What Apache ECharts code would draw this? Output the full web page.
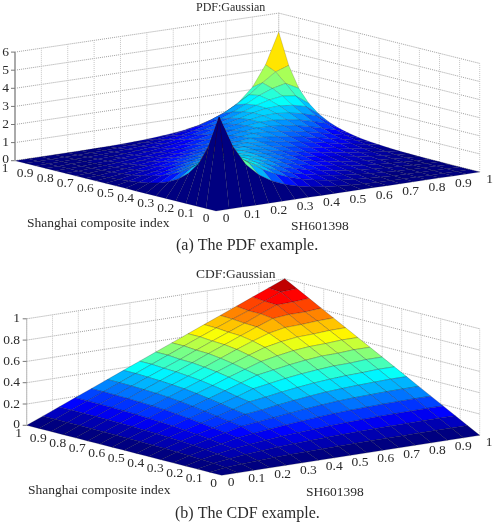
<!DOCTYPE html>
<html>
<head>
<meta charset="utf-8">
<style>html,body{margin:0;padding:0;background:#fff}#chart{width:496px;height:524px}</style>
<script src="https://cdn.jsdelivr.net/npm/echarts@6/dist/echarts.min.js"></script>
</head>
<body>
<div id="chart"></div>
<script>
// Axis tick labels
const marginTicks = ['0','0.1','0.2','0.3','0.4','0.5','0.6','0.7','0.8','0.9','1'];
const pdfHeightTicks = ['0','1','2','3','4','5','6'];
const cdfHeightTicks = ['0','0.2','0.4','0.6','0.8','1'];

// Density heights, lower triangle; row i holds columns 0..i on a 0.05 mesh.
const pdfLower = [
[0],
[0,4.95],
[0,3.25,3.0],
[0,2.12,2.5,2.33],
[0,1.43,1.95,2.05,1.94],
[0,.98,1.5,1.68,1.75,1.72],
[0,.68,1.13,1.35,1.5,1.58,1.56],
[0,.47,.85,1.06,1.25,1.38,1.45,1.45],
[0,.33,.63,.83,1.02,1.18,1.29,1.36,1.37],
[0,.23,.47,.64,.82,.98,1.12,1.22,1.29,1.32],
[0,.16,.34,.49,.65,.80,.95,1.07,1.17,1.25,1.30],
[0,.11,.25,.37,.51,.65,.79,.91,1.03,1.14,1.22,1.30],
[0,.075,.18,.28,.39,.51,.64,.76,.88,1.01,1.14,1.25,1.32],
[0,.05,.13,.21,.30,.39,.50,.61,.74,.88,1.03,1.17,1.29,1.37],
[0,.035,.09,.15,.22,.30,.39,.50,.62,.76,.91,1.07,1.22,1.36,1.45],
[0,.022,.06,.11,.16,.22,.30,.40,.51,.64,.79,.95,1.12,1.29,1.45,1.56],
[0,.014,.04,.075,.115,.16,.22,.30,.40,.51,.65,.80,.98,1.18,1.38,1.58,1.72],
[0,.008,.027,.05,.08,.115,.16,.22,.30,.39,.51,.65,.82,1.02,1.25,1.5,1.75,1.94],
[0,.004,.017,.03,.05,.075,.11,.15,.21,.28,.37,.49,.64,.83,1.06,1.35,1.68,2.05,2.33],
[0,.002,.01,.017,.027,.04,.06,.09,.13,.18,.25,.34,.47,.63,.85,1.13,1.5,1.95,2.5,3.0],
[0,.001,.002,.004,.008,.014,.022,.035,.05,.075,.11,.16,.23,.33,.47,.68,.98,1.43,2.12,3.25,4.95]
];

// Cumulative heights, lower triangle; row i holds columns 0..i on a 1/16 mesh.
const cdfLower = [
[0],
[0,.02],
[0,.03,.05],
[0,.038,.066,.09],
[0,.043,.078,.107,.14],
[0,.048,.089,.124,.158,.195],
[0,.052,.097,.137,.175,.212,.255],
[0,.054,.103,.147,.19,.23,.272,.32],
[0,.056,.109,.157,.204,.248,.295,.34,.39],
[0,.058,.113,.165,.217,.265,.315,.365,.415,.465],
[0,.06,.117,.172,.227,.28,.333,.385,.44,.49,.54],
[0,.061,.12,.178,.235,.292,.348,.403,.46,.515,.57,.62],
[0,.061,.122,.182,.24,.30,.357,.415,.475,.535,.595,.65,.70],
[0,.062,.123,.185,.245,.305,.365,.425,.487,.55,.61,.67,.73,.785],
[0,.062,.124,.186,.247,.31,.37,.43,.49,.553,.615,.675,.735,.80,.86],
[0,.0625,.125,.188,.25,.312,.375,.438,.50,.563,.625,.685,.745,.80,.865,.93],
[0,.0625,.125,.188,.25,.3125,.375,.4375,.5,.5625,.625,.6875,.75,.8125,.875,.9375,1]
];

const serifFont = '"Liberation Serif","Times New Roman",serif';
const textColor = '#2b2b2b';

// Oblique view of each surface: screen vectors for the two margins and for height.
const panels = [
  {
    rows: pdfLower, colorMax: 4.6, heightTicks: pdfHeightTicks, zTop: 6, meshStroke: 'rgba(0,0,20,0.3)',
    origin: [216, 211], xVec: [263.7, -39], yVec: [-201, -50.3], zVec: -18.1,
    xOffset: [10, 7.5], yOffset: [-10, 7.5], heightLabelX: 9, axisWidth: 2, axisColor: '#aaaaaa'
  },
  {
    rows: cdfLower, colorMax: 1, heightTicks: cdfHeightTicks, zTop: 1, meshStroke: 'rgba(0,0,20,0.42)',
    origin: [221.7, 475.3], xVec: [258, -40], yVec: [-195, -50], zVec: -106.5,
    xOffset: [9.3, 7.5], yOffset: [-8, 8], heightLabelX: 20, axisWidth: 1, axisColor: '#bbbbbb'
  }
];

function fullMatrix(lower) {
  return lower.map((_, i) => lower.map((__, j) => (j <= i ? lower[i][j] : lower[j][i])));
}

function jetColor(t) {
  const level = Math.min(63, Math.floor(Math.max(0, Math.min(1, t)) * 64)) / 63;
  const band = c => Math.round(255 * Math.max(0, Math.min(1, 1.5 - Math.abs(4 * level - c))));
  return 'rgb(' + band(3) + ',' + band(2) + ',' + band(1) + ')';
}

panels.forEach(p => {
  p.z = fullMatrix(p.rows);
  p.n = p.rows.length - 1;
  p.project = (x, y, z) => [
    p.origin[0] + x * p.xVec[0] + y * p.yVec[0],
    p.origin[1] + x * p.xVec[1] + y * p.yVec[1] + z * p.zVec
  ];
});

// Painted from the far corner forward so nearer facets cover farther ones.
function surfaceSeries(p) {
  const cells = [];
  for (let i = p.n - 1; i >= 0; i--) {
    for (let j = p.n - 1; j >= 0; j--) cells.push([i, j]);
  }
  return {
    type: 'custom', coordinateSystem: 'cartesian2d', silent: true, z: 3,
    data: cells,
    encode: { x: 0, y: 1 },
    clip: false,
    renderItem(params, api) {
      const i = api.value(0), j = api.value(1);
      const corner = (a, b) => api.coord(p.project(a / p.n, b / p.n, p.z[a][b]));
      return {
        type: 'polygon',
        shape: { points: [corner(i, j), corner(i + 1, j), corner(i + 1, j + 1), corner(i, j + 1)] },
        style: { fill: jetColor(p.z[i][j] / p.colorMax), stroke: p.meshStroke, lineWidth: 0.5 }
      };
    }
  };
}

// Dotted wall grid on the two back walls.
function wallSeries(p) {
  const zStep = p.zTop / (p.heightTicks.length - 1);
  const segs = [];
  p.heightTicks.forEach((_, k) => {
    const z = k * zStep;
    segs.push([[0, 1, z], [1, 1, z], '#a2a2a2']);
    segs.push([[1, 1, z], [1, 0, z], '#a2a2a2']);
  });
  marginTicks.forEach((_, k) => {
    const t = k / 10;
    segs.push([[t, 1, 0], [t, 1, p.zTop], '#c6c6c6']);
    segs.push([[1, t, 0], [1, t, p.zTop], '#c6c6c6']);
  });
  return {
    type: 'custom', coordinateSystem: 'cartesian2d', silent: true, z: 1, clip: false,
    data: segs.map((_, k) => [k, 0]),
    encode: { x: 0, y: 1 },
    renderItem(params, api) {
      const s = segs[api.value(0)];
      const a = api.coord(p.project(...s[0])), b = api.coord(p.project(...s[1]));
      return {
        type: 'line',
        shape: { x1: a[0], y1: a[1], x2: b[0], y2: b[1] },
        style: { stroke: s[2], lineWidth: 1, lineDash: [1, 1] }
      };
    }
  };
}

// Height axis with its tick marks and the tick labels along all three axes.
function labelSeries(p) {
  const items = [];
  const zStep = p.zTop / (p.heightTicks.length - 1);
  p.heightTicks.forEach((label, k) => items.push(['z', label, k * zStep]));
  marginTicks.forEach((label, k) => {
    items.push(['x', label, k / 10]);
    items.push(['y', label, k / 10]);
  });
  return {
    type: 'custom', coordinateSystem: 'cartesian2d', silent: true, z: 5, clip: false,
    data: items.map((_, k) => [k, 0]),
    encode: { x: 0, y: 1 },
    renderItem(params, api) {
      const [kind, label, v] = items[api.value(0)];
      const font = '13.5px ' + serifFont;
      if (kind === 'z') {
        const at = api.coord(p.project(0, 1, v));
        const children = [
          { type: 'line', shape: { x1: at[0] - 4, y1: at[1], x2: at[0], y2: at[1] },
            style: { stroke: '#777', lineWidth: 1 } },
          { type: 'text', x: p.heightLabelX, y: at[1] + (v === 0 ? -1 : 0),
            style: { text: label, font, fill: textColor, align: 'right', verticalAlign: 'middle' } }
        ];
        if (v === 0) {
          const top = api.coord(p.project(0, 1, p.zTop));
          children.push({ type: 'line', shape: { x1: at[0], y1: at[1], x2: top[0], y2: top[1] },
            style: { stroke: p.axisColor, lineWidth: p.axisWidth } });
        }
        return { type: 'group', children };
      }
      const base = kind === 'x' ? p.project(v, 0, 0) : p.project(0, v, 0);
      const off = kind === 'x' ? p.xOffset : p.yOffset;
      const at = api.coord([base[0] + off[0], base[1] + off[1]]);
      return {
        type: 'text', x: at[0], y: at[1],
        style: { text: label, font, fill: textColor, align: 'center', verticalAlign: 'middle' }
      };
    }
  };
}

const captionText = (text, x, y, size) => ({
  type: 'text', x, y, silent: true,
  style: { text, font: size + 'px ' + serifFont, fill: textColor, align: 'left', verticalAlign: 'middle' }
});

const chart = echarts.init(document.getElementById('chart'), null, { renderer: 'canvas' });
chart.setOption({
  animation: false,
  backgroundColor: '#fff',
  grid: { left: 0, top: 0, width: 496, height: 524, show: false },
  xAxis: { type: 'value', min: 0, max: 496, show: false },
  yAxis: { type: 'value', min: 0, max: 524, inverse: true, show: false },
  graphic: [
    captionText('PDF:Gaussian', 196, 8, 12),
    captionText('Shanghai composite index', 27, 223, 13.5),
    captionText('SH601398', 291, 226, 13.5),
    captionText('(a) The PDF example.', 176, 246, 16),
    captionText('CDF:Gaussian', 196, 274, 13.5),
    captionText('Shanghai composite index', 28, 490, 13.5),
    captionText('SH601398', 306, 492, 13.5),
    captionText('(b) The CDF example.', 175, 514, 16)
  ],
  series: panels.flatMap(p => [wallSeries(p), surfaceSeries(p), labelSeries(p)])
});
</script>
</body>
</html>
